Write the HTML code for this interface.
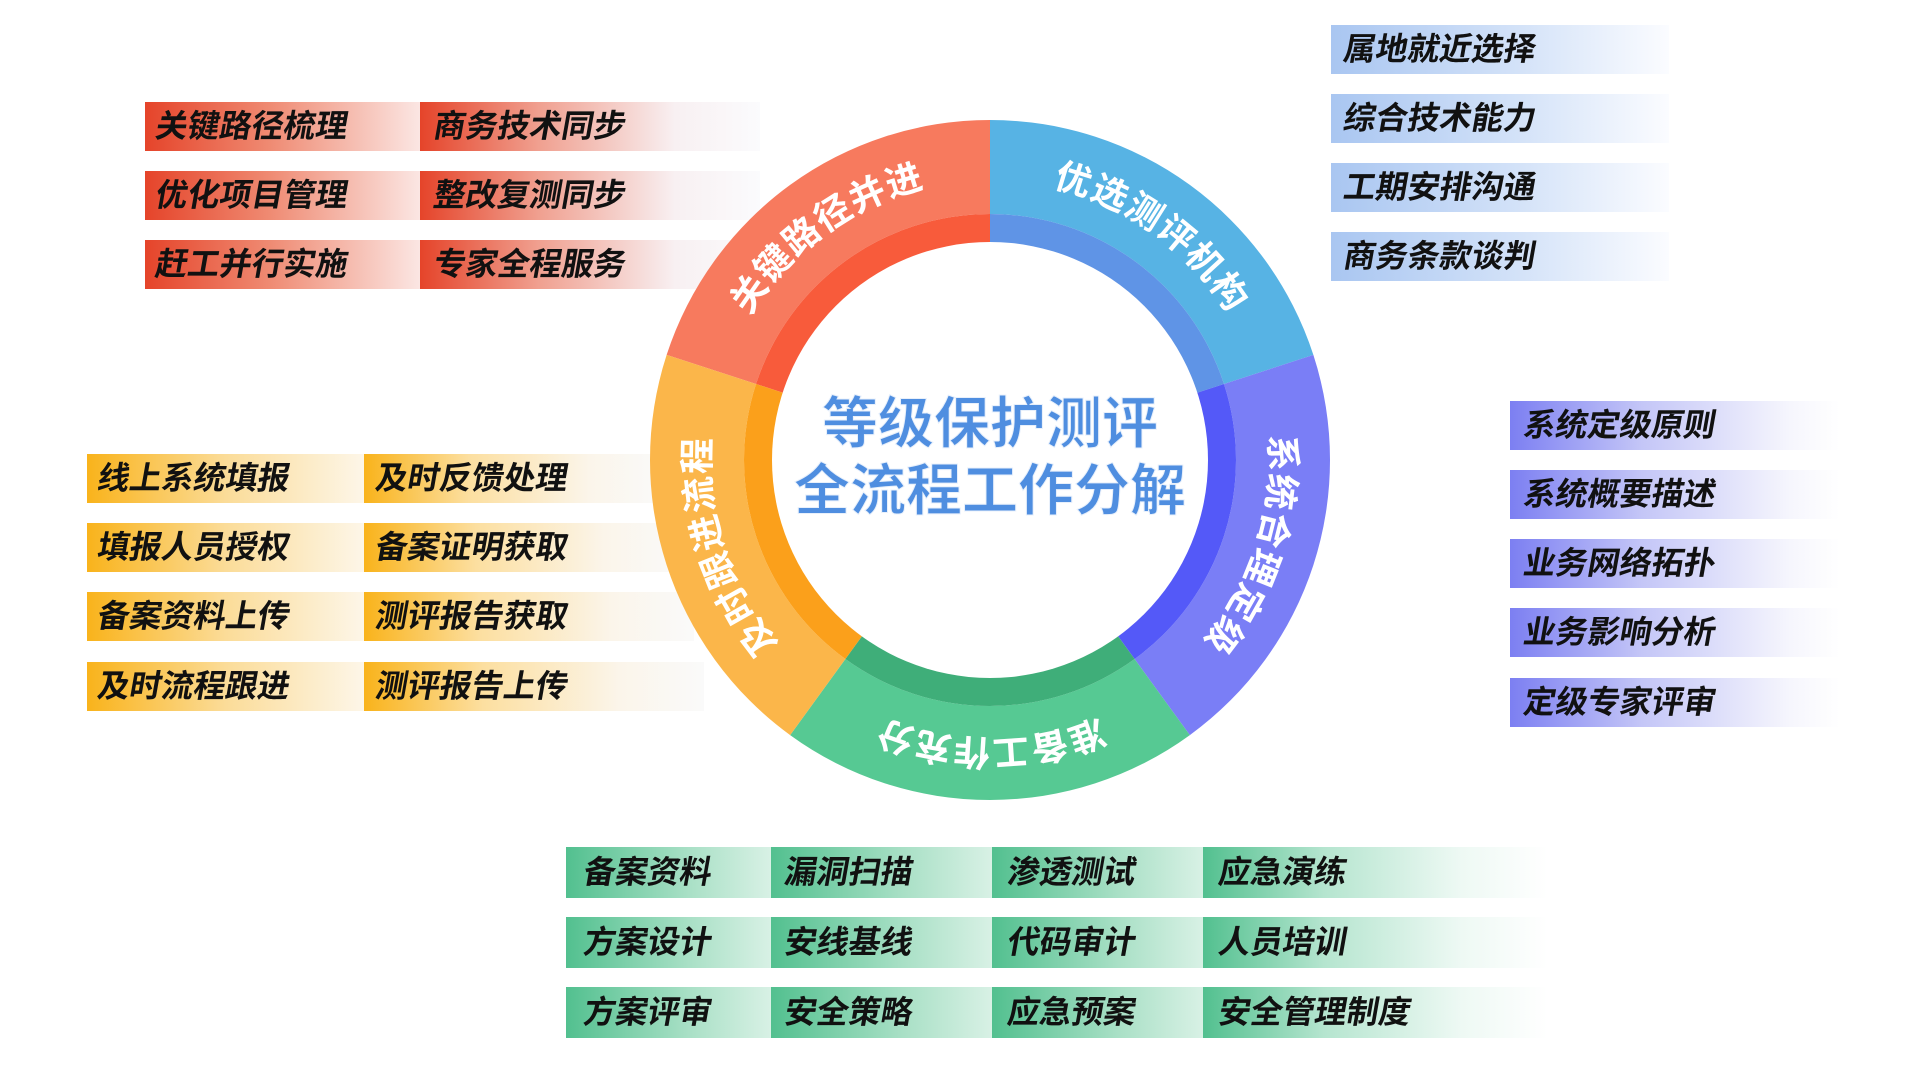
<!DOCTYPE html>
<html><head><meta charset="utf-8">
<style>
html,body{margin:0;padding:0;background:#fff;}
body{width:1920px;height:1080px;position:relative;overflow:hidden;font-family:"Liberation Sans","Noto Sans CJK SC",sans-serif;}
.b{position:absolute;height:49px;}
.b span{position:absolute;top:0;line-height:49px;font-size:32px;font-weight:bold;color:#111;transform:skewX(-10deg);white-space:nowrap;letter-spacing:0px;}
.r1{background:linear-gradient(90deg,#e5442a 0%,#ef8a72 45%,#fbe6e3 100%);}
.r2{background:linear-gradient(90deg,#e5442a 0%,#f0a090 35%,#f8f0f2 75%,#fbfbfd 100%);}
.bl{background:linear-gradient(90deg,#a9c6f1 0%,#d3e2f8 55%,#fbfcff 100%);}
.pu{background:linear-gradient(90deg,#7c7ff2 0%,#c4c6f7 40%,#f6f6fd 85%,#fff 100%);}
.o1{background:linear-gradient(90deg,#f9b31b 0%,#fbdc98 50%,#fdf6e8 100%);}
.o2{background:linear-gradient(90deg,#f9b31b 0%,#fcdfa0 35%,#fbf5ea 75%,#fafafa 100%);}
.g1{background:linear-gradient(90deg,#52c08f 0%,#a9e0c6 60%,#d8f1e5 100%);}
.g4{background:linear-gradient(90deg,#52c08f 0%,#b5e5cf 35%,#eef9f4 75%,#fff 100%);}
</style></head><body>

<div class="b r1" style="left:145px;top:102px;width:275px;"><span style="left:11px">关键路径梳理</span></div>
<div class="b r1" style="left:145px;top:171px;width:275px;"><span style="left:11px">优化项目管理</span></div>
<div class="b r1" style="left:145px;top:240px;width:275px;"><span style="left:11px">赶工并行实施</span></div>
<div class="b r2" style="left:420px;top:102px;width:340px;"><span style="left:14px">商务技术同步</span></div>
<div class="b r2" style="left:420px;top:171px;width:340px;"><span style="left:14px">整改复测同步</span></div>
<div class="b r2" style="left:420px;top:240px;width:340px;"><span style="left:14px">专家全程服务</span></div>

<div class="b bl" style="left:1331px;top:25px;width:338px;"><span style="left:13px">属地就近选择</span></div>
<div class="b bl" style="left:1331px;top:94px;width:338px;"><span style="left:13px">综合技术能力</span></div>
<div class="b bl" style="left:1331px;top:163px;width:338px;"><span style="left:13px">工期安排沟通</span></div>
<div class="b bl" style="left:1331px;top:232px;width:338px;"><span style="left:13px">商务条款谈判</span></div>

<div class="b pu" style="left:1510px;top:401px;width:330px;"><span style="left:14px">系统定级原则</span></div>
<div class="b pu" style="left:1510px;top:470px;width:330px;"><span style="left:14px">系统概要描述</span></div>
<div class="b pu" style="left:1510px;top:539px;width:330px;"><span style="left:14px">业务网络拓扑</span></div>
<div class="b pu" style="left:1510px;top:608px;width:330px;"><span style="left:14px">业务影响分析</span></div>
<div class="b pu" style="left:1510px;top:678px;width:330px;"><span style="left:14px">定级专家评审</span></div>

<div class="b o1" style="left:87px;top:454px;width:277px;"><span style="left:11px">线上系统填报</span></div>
<div class="b o1" style="left:87px;top:523px;width:277px;"><span style="left:11px">填报人员授权</span></div>
<div class="b o1" style="left:87px;top:592px;width:277px;"><span style="left:11px">备案资料上传</span></div>
<div class="b o1" style="left:87px;top:662px;width:277px;"><span style="left:11px">及时流程跟进</span></div>
<div class="b o2" style="left:364px;top:454px;width:300px;"><span style="left:12px">及时反馈处理</span></div>
<div class="b o2" style="left:364px;top:523px;width:320px;"><span style="left:12px">备案证明获取</span></div>
<div class="b o2" style="left:364px;top:592px;width:330px;"><span style="left:12px">测评报告获取</span></div>
<div class="b o2" style="left:364px;top:662px;width:340px;"><span style="left:12px">测评报告上传</span></div>

<div class="b g1" style="left:566px;top:847px;width:205px;height:51px;"><span style="left:18px;line-height:51px">备案资料</span></div>
<div class="b g1" style="left:771px;top:847px;width:221px;height:51px;"><span style="left:14px;line-height:51px">漏洞扫描</span></div>
<div class="b g1" style="left:992px;top:847px;width:211px;height:51px;"><span style="left:16px;line-height:51px">渗透测试</span></div>
<div class="b g4" style="left:1203px;top:847px;width:345px;height:51px;"><span style="left:16px;line-height:51px">应急演练</span></div>
<div class="b g1" style="left:566px;top:917px;width:205px;height:51px;"><span style="left:18px;line-height:51px">方案设计</span></div>
<div class="b g1" style="left:771px;top:917px;width:221px;height:51px;"><span style="left:14px;line-height:51px">安线基线</span></div>
<div class="b g1" style="left:992px;top:917px;width:211px;height:51px;"><span style="left:16px;line-height:51px">代码审计</span></div>
<div class="b g4" style="left:1203px;top:917px;width:345px;height:51px;"><span style="left:16px;line-height:51px">人员培训</span></div>
<div class="b g1" style="left:566px;top:987px;width:205px;height:51px;"><span style="left:18px;line-height:51px">方案评审</span></div>
<div class="b g1" style="left:771px;top:987px;width:221px;height:51px;"><span style="left:14px;line-height:51px">安全策略</span></div>
<div class="b g1" style="left:992px;top:987px;width:211px;height:51px;"><span style="left:16px;line-height:51px">应急预案</span></div>
<div class="b g4" style="left:1203px;top:987px;width:345px;height:51px;"><span style="left:16px;line-height:51px">安全管理制度</span></div>

<svg id="ring" width="1920" height="1080" style="position:absolute;left:0;top:0" xmlns="http://www.w3.org/2000/svg">
  <g id="segs"></g>
  <circle cx="990" cy="460" r="218" fill="#fff"/>
  <path id="tp" d="M990,167 A293,293 0 1 1 990,753 A293,293 0 1 1 990,167" fill="none"/>
  <g font-family="Liberation Sans, Noto Sans CJK SC, sans-serif" font-weight="bold" font-size="36" fill="#fff" dominant-baseline="central" text-anchor="middle" letter-spacing="3">
    <text><textPath href="#tp" startOffset="10%">优选测评机构</textPath></text>
    <text><textPath href="#tp" startOffset="30%">系统合理定级</textPath></text>
    <text><textPath href="#tp" startOffset="50%">准备工作充分</textPath></text>
    <text><textPath href="#tp" startOffset="70%">及时跟进流程</textPath></text>
    <text><textPath href="#tp" startOffset="90%">关键路径并进</textPath></text>
  </g>
  <g font-family="Liberation Sans, Noto Sans CJK SC, sans-serif" font-weight="bold" font-size="56" fill="#4f8ee0" text-anchor="middle" stroke="#e8f0fb" stroke-width="1">
    <text x="990" y="443">等级保护测评</text>
    <text x="990" y="510">全流程工作分解</text>
  </g>
</svg>
<script>
(function(){
var cx=990,cy=460,R=340,M=246,I=217;
var segs=[["#f77a5e","#f85b3b",-72,0],["#57b3e4","#5f94e6",0,72],["#7a7ef6","#5459f8",72,144],["#56c993","#3fae79",144,216],["#fbb64a","#fba01b",216,288]];
function p(r,a){var t=(a-90)*Math.PI/180;return (cx+r*Math.cos(t)).toFixed(2)+","+(cy+r*Math.sin(t)).toFixed(2);}
function arc(r1,r2,a,b){return "M"+p(r2,a)+" A"+r2+","+r2+" 0 0 1 "+p(r2,b)+" L"+p(r1,b)+" A"+r1+","+r1+" 0 0 0 "+p(r1,a)+"Z";}
var g=document.getElementById("segs"),h="";
segs.forEach(function(s){h+='<path d="'+arc(M,R,s[2],s[3])+'" fill="'+s[0]+'"/>';h+='<path d="'+arc(I,M,s[2],s[3])+'" fill="'+s[1]+'"/>';});
g.innerHTML=h;
})();
</script>
</body></html>
